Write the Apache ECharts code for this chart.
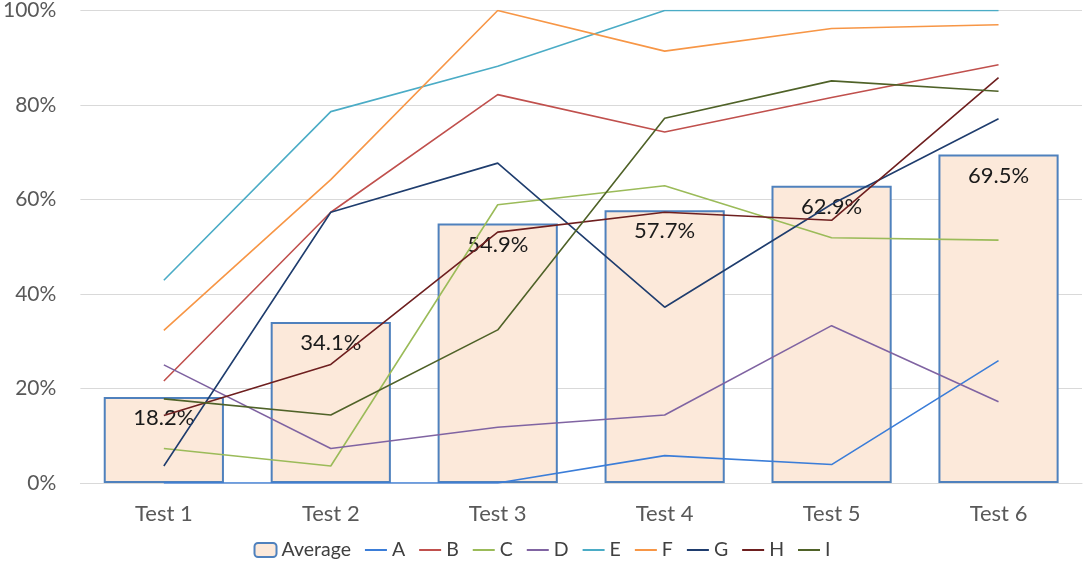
<!DOCTYPE html>
<html><head><meta charset="utf-8">
<script src="https://cdn.jsdelivr.net/npm/echarts@6/dist/echarts.min.js"></script>
<style>html,body{margin:0;padding:0;background:#fff}#c{width:1084px;height:568px}</style>
</head><body><div id="c"></div>
<script>
const categories = ['Test 1','Test 2','Test 3','Test 4','Test 5','Test 6'];
const average = [18.2, 34.1, 54.9, 57.7, 62.9, 69.5];
const A = [0, 0, 0, 5.8, 3.9, 25.9];
const B = [21.6, 57.3, 82.2, 74.3, 81.6, 88.5];
const C = [7.3, 3.6, 58.9, 62.9, 51.9, 51.4];
const D = [25.0, 7.3, 11.8, 14.4, 33.3, 17.2];
const E = [42.9, 78.6, 88.2, 100, 100, 100];
const F = [32.3, 64.2, 100, 91.4, 96.2, 97.0];
const G = [3.6, 57.3, 67.7, 37.2, 59.0, 77.1];
const H = [14.3, 25.1, 53.1, 57.3, 55.6, 85.8];
const I = [17.8, 14.4, 32.4, 77.2, 85.1, 82.9];
const yTicks = [0, 20, 40, 60, 80, 100];

const lineSeries = [
  ['A', A, '#3B7DD8'],
  ['B', B, '#C0504D'],
  ['C', C, '#9BBB59'],
  ['D', D, '#8064A2'],
  ['E', E, '#4BACC6'],
  ['F', F, '#F79646'],
  ['G', G, '#1F3D6E'],
  ['H', H, '#6E1F1F'],
  ['I', I, '#4F6228']
];
const font = 'Lato, "Open Sans", sans-serif';
const chart = echarts.init(document.getElementById('c'));
chart.setOption({
  animation: false,
  textStyle: {fontFamily: font},
  grid: {left: 79, right: 2, top: 10, bottom: 85},
  legend: {
    bottom: 3, left: 'center', itemGap: 13, itemWidth: 22, itemHeight: 14,
    textStyle: {fontSize: 19.5, color: '#404040', fontFamily: font},
    data: ['Average', ...lineSeries.map(s => ({name: s[0], itemStyle: {opacity: 0}}))]
  },
  xAxis: {
    type: 'category', data: categories,
    axisLine: {lineStyle: {color: '#D9D9D9'}},
    axisTick: {show: false},
    axisLabel: {fontSize: 22, color: '#595959', margin: 20, fontFamily: font}
  },
  yAxis: {
    type: 'value', min: yTicks[0], max: yTicks[yTicks.length-1], interval: 20,
    axisLine: {show: false}, axisTick: {show: false},
    splitLine: {lineStyle: {color: '#D9D9D9', width: 1.2}},
    axisLabel: {fontSize: 21, color: '#595959', margin: 24, formatter: '{value}%', fontFamily: font}
  },
  series: [
    {
      name: 'Average', type: 'bar', data: average, barWidth: '72%',
      itemStyle: {color: '#FCE9DA', borderColor: '#4F81BD', borderWidth: 2},
      label: {show: true, position: 'insideTop', distance: 10, fontSize: 22, color: '#1a1a1a',
        formatter: p => p.value.toFixed(1) + '%', fontFamily: font},
      z: 1
    },
    ...lineSeries.map(s => ({
      name: s[0], type: 'line', data: s[1], symbol: 'none',
      lineStyle: {color: s[2], width: 1.6}, itemStyle: {color: s[2]}, z: 3
    }))
  ]
});
</script></body></html>
